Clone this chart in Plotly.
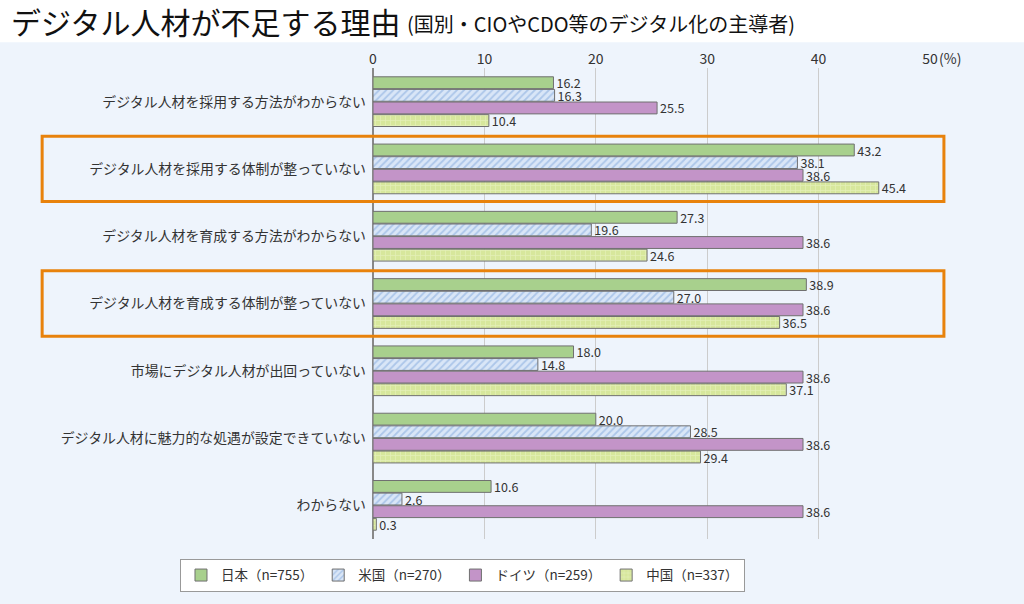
import plotly.graph_objects as go

categories = [
    "デジタル人材を採用する方法がわからない",
    "デジタル人材を採用する体制が整っていない",
    "デジタル人材を育成する方法がわからない",
    "デジタル人材を育成する体制が整っていない",
    "市場にデジタル人材が出回っていない",
    "デジタル人材に魅力的な処遇が設定できていない",
    "わからない",
]
series_names = ["日本（n=755）", "米国（n=270）", "ドイツ（n=259）", "中国（n=337）"]
japan = [16.2, 43.2, 27.3, 38.9, 18.0, 20.0, 10.6]
usa = [16.3, 38.1, 19.6, 27.0, 14.8, 28.5, 2.6]
germany = [25.5, 38.6, 38.6, 38.6, 38.6, 38.6, 38.6]
china = [10.4, 45.4, 24.6, 36.5, 37.1, 29.4, 0.3]
tick_vals = [0, 10, 20, 30, 40, 50]
tick_text = ["0", "10", "20", "30", "40", "50"]
highlight_idx = [1, 3]

FONT = "Noto Sans CJK JP"
BG = "#EEF4FC"

styles = [
    dict(color="#A8D08D", pattern=None),
    dict(color="#D9E6F7", pattern=dict(shape="/", fgcolor="#7FA6DC", bgcolor="#D9E6F7", size=5, solidity=0.35)),
    dict(color="#C394C8", pattern=None),
    dict(color="#D7E79C", pattern=dict(shape="+", fgcolor="#F2F7D8", bgcolor="#D7E79C", size=5, solidity=0.25)),
]

fig = go.Figure()
for name, vals, st in zip(series_names, [japan, usa, germany, china], styles):
    marker = dict(color=st["color"], line=dict(color="#707070", width=1))
    if st["pattern"]:
        marker["pattern"] = st["pattern"]
    fig.add_trace(go.Bar(
        y=categories, x=vals, name=name, orientation="h",
        marker=marker,
        text=[f"{v:.1f}" for v in vals], textposition="outside",
        textfont=dict(family=FONT, size=12.5, color="#333333"),
        constraintext="none", cliponaxis=False,
    ))

shapes = [
    dict(type="rect", xref="paper", yref="paper", x0=-0.8, x1=1.3, y0=1.0545, y1=1.25,
         fillcolor="white", line=dict(width=0), layer="below"),
]
for i in highlight_idx:
    shapes.append(dict(type="rect", xref="paper", yref="y", x0=-0.594, x1=1.025,
                       y0=i - 0.485, y1=i + 0.485,
                       line=dict(color="#E8820C", width=3), fillcolor="rgba(0,0,0,0)"))

fig.update_layout(
    width=1024, height=604,
    margin=dict(l=373, r=94, t=68, b=59),
    paper_bgcolor=BG, plot_bgcolor=BG,
    barmode="group", bargap=0.25, bargroupgap=0.06,
    font=dict(family=FONT, color="#333333"),
    showlegend=True,
    legend=dict(orientation="h", x=-0.3465, xanchor="left", y=-0.042, yanchor="top",
                bgcolor="white", bordercolor="#999999", borderwidth=1,
                font=dict(family=FONT, size=13.5, color="#333333"),
                traceorder="normal"),
    xaxis=dict(side="top", range=[0, 50], tickvals=tick_vals, ticktext=tick_text,
               showgrid=True, gridcolor="#CCCCCC", gridwidth=1,
               zeroline=True, zerolinecolor="#888888", zerolinewidth=1.5,
               ticks="", tickfont=dict(family=FONT, size=14, color="#333333"),
               showline=False, fixedrange=True),
    yaxis=dict(autorange="reversed", ticks="", ticklabelstandoff=6,
               tickfont=dict(family=FONT, size=13.9, color="#333333"),
               showgrid=False, showline=False),
    shapes=shapes,
    annotations=[
        dict(xref="paper", yref="paper", x=-0.654, y=1.1006, xanchor="left", yanchor="middle",
             text="デジタル人材が不足する理由", showarrow=False,
             font=dict(family=FONT, size=30, color="#111111")),
        dict(xref="paper", yref="paper", x=0.058, y=1.0945, xanchor="left", yanchor="middle",
             text="(国別・CIOやCDO等のデジタル化の主導者)", showarrow=False,
             font=dict(family=FONT, size=20, color="#111111")),
        dict(xref="x", yref="paper", x=50, y=1.0205, xanchor="left", yanchor="middle",
             xshift=7, text="(%)", showarrow=False,
             font=dict(family=FONT, size=14, color="#333333")),
    ],
)

fig.write_html("out.html", config={"displayModeBar": False},
               post_script="document.body.style.margin='0';")
